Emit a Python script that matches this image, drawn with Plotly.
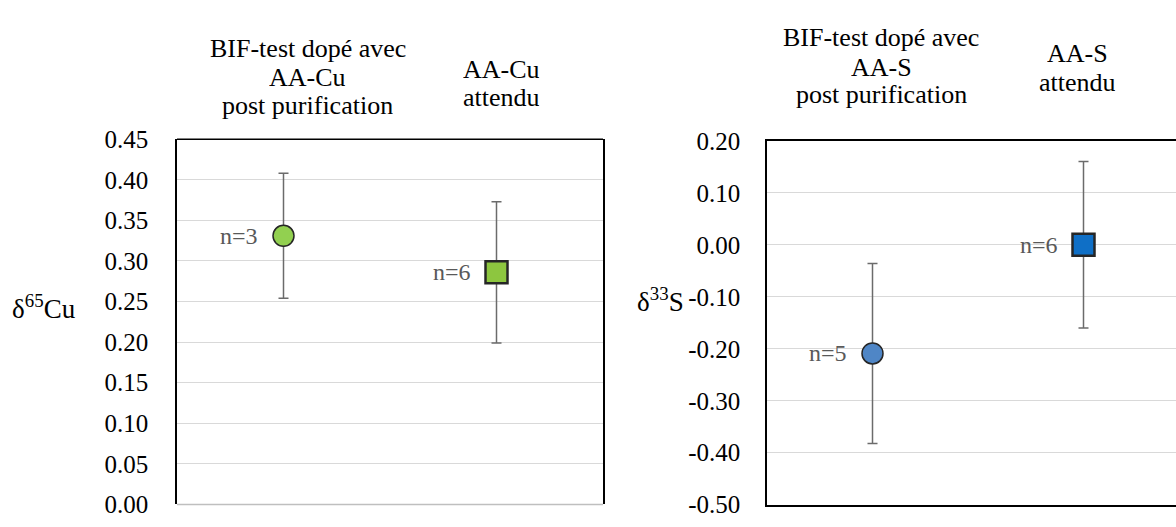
import plotly.graph_objects as go

# ---------------- data ----------------
cu_categories = ["BIF-test dopé avec<br>AA-Cu<br>post purification", "AA-Cu<br>attendu"]
cu_values = [0.331, 0.286]
cu_errors = [0.077, 0.087]
cu_n_labels = ["n=3", "n=6"]
cu_ticks = [0.00, 0.05, 0.10, 0.15, 0.20, 0.25, 0.30, 0.35, 0.40, 0.45]
cu_ticktext = ["0.00", "0.05", "0.10", "0.15", "0.20", "0.25", "0.30", "0.35", "0.40", "0.45"]

s_categories = ["BIF-test dopé avec<br>AA-S<br>post purification", "AA-S<br>attendu"]
s_values = [-0.209, 0.000]
s_errors = [0.173, 0.160]
s_n_labels = ["n=5", "n=6"]
s_ticks = [-0.50, -0.40, -0.30, -0.20, -0.10, 0.00, 0.10, 0.20]
s_ticktext = ["-0.50", "-0.40", "-0.30", "-0.20", "-0.10", "0.00", "0.10", "0.20"]

W, H = 1176, 527
FONT = "'Liberation Serif', 'Times New Roman', 'DejaVu Serif', serif"
GRID = "#D9D9D9"
ERR = "#6B6B6B"
EDGE = "#262626"

def px(x):
    return x / W

def py(y):
    return 1 - y / H

fig = go.Figure()

# left chart points
fig.add_trace(go.Scatter(
    x=[cu_categories[0]], y=[cu_values[0]], mode="markers",
    marker=dict(symbol="circle", size=21, color="#92D050", line=dict(color=EDGE, width=1.5)),
    error_y=dict(type="data", array=[cu_errors[0]], color=ERR, thickness=1.5, width=5),
    xaxis="x", yaxis="y", showlegend=False, hoverinfo="skip"))
fig.add_trace(go.Scatter(
    x=[cu_categories[1]], y=[cu_values[1]], mode="markers",
    marker=dict(symbol="square", size=22, color="#8DC63F", line=dict(color=EDGE, width=2.5)),
    error_y=dict(type="data", array=[cu_errors[1]], color=ERR, thickness=1.5, width=5),
    xaxis="x", yaxis="y", showlegend=False, hoverinfo="skip"))

# right chart points
fig.add_trace(go.Scatter(
    x=[s_categories[0]], y=[s_values[0]], mode="markers",
    marker=dict(symbol="circle", size=21, color="#4F86C6", line=dict(color=EDGE, width=1.5)),
    error_y=dict(type="data", array=[s_errors[0]], color=ERR, thickness=1.5, width=5),
    xaxis="x2", yaxis="y2", showlegend=False, hoverinfo="skip"))
fig.add_trace(go.Scatter(
    x=[s_categories[1]], y=[s_values[1]], mode="markers",
    marker=dict(symbol="square", size=22, color="#0F6FC6", line=dict(color=EDGE, width=2.5)),
    error_y=dict(type="data", array=[s_errors[1]], color=ERR, thickness=1.5, width=5),
    xaxis="x2", yaxis="y2", showlegend=False, hoverinfo="skip"))

annotations = []
# n labels next to points
for cats, vals, labs, xr, yr in [(cu_categories, cu_values, cu_n_labels, "x", "y"),
                                  (s_categories, s_values, s_n_labels, "x2", "y2")]:
    for c, v, t in zip(cats, vals, labs):
        annotations.append(dict(x=c, y=v, xref=xr, yref=yr, text=t, showarrow=False,
                                xanchor="right", yanchor="middle", xshift=-24,
                                font=dict(family=FONT, size=24, color="#595959")))

# category labels above the charts (one annotation per line to keep Excel-like spacing)
label_pos = [(cu_categories[0], 307.5, [37, 68, 98]), (cu_categories[1], 502, [60, 89]),
             (s_categories[0], 881, [26, 57, 86]), (s_categories[1], 1077, [43, 73])]
for text, x, ys in label_pos:
    for line, y in zip(text.split("<br>"), ys):
        annotations.append(dict(x=px(x), y=py(y), xref="paper", yref="paper", text=line,
                                showarrow=False, xanchor="center", yanchor="middle",
                                height=29, valign="middle",
                                font=dict(family=FONT, size=26, color="#000000")))

# y axis titles
annotations.append(dict(x=px(44), y=py(310), xref="paper", yref="paper",
                        text="δ<sup>65</sup>Cu", showarrow=False, xanchor="center", yanchor="middle",
                        font=dict(family=FONT, size=27, color="#000000")))
annotations.append(dict(x=px(660), y=py(302), xref="paper", yref="paper",
                        text="δ<sup>33</sup>S", showarrow=False, xanchor="center", yanchor="middle",
                        font=dict(family=FONT, size=27, color="#000000")))

tickfont = dict(family=FONT, size=25, color="#000000")

fig.update_layout(
    width=W, height=H,
    margin=dict(l=0, r=0, t=0, b=0),
    paper_bgcolor="white", plot_bgcolor="white",
    showlegend=False,
    font=dict(family=FONT),
    xaxis=dict(domain=[px(177), px(603)], type="category", categoryarray=cu_categories,
               range=[-0.5, 1.5], showticklabels=False, showgrid=False, zeroline=False,
               showline=False, fixedrange=True),
    yaxis=dict(domain=[py(518), py(133)], range=[0, 0.45], tickvals=cu_ticks, ticktext=cu_ticktext,
               showgrid=True, gridcolor=GRID, gridwidth=1, zeroline=False,
               showline=True, linecolor="#000000", linewidth=1.5, mirror=True,
               ticks="", ticklabelstandoff=22, ticklabeloverflow="allow", tickfont=tickfont, anchor="x"),
    xaxis2=dict(domain=[px(767), 1.0], type="category", categoryarray=s_categories,
                range=[-0.5, -0.5 + 409 / 211], showticklabels=False, showgrid=False, zeroline=False,
                showline=True, linecolor="#000000", linewidth=1.5, mirror=True, anchor="y2"),
    yaxis2=dict(domain=[py(518.3), py(134.7)], range=[-0.5, 0.2], tickvals=s_ticks, ticktext=s_ticktext,
                showgrid=True, gridcolor=GRID, gridwidth=1, zeroline=False,
                showline=True, linecolor="#000000", linewidth=1.5, mirror=False,
                ticks="", ticklabelstandoff=20, ticklabeloverflow="allow", tickfont=tickfont, anchor="x2"),
    annotations=annotations,
    shapes=[dict(type="line", xref="x domain", yref="y domain", x0=0, x1=1, y0=1, y1=1,
                 line=dict(color="#000000", width=1.5)),
            dict(type="line", xref="x domain", yref="y domain", x0=0, x1=1, y0=0, y1=0,
                 line=dict(color="#BFBFBF", width=1.5))],
)

fig.write_html("out.html", config={"displayModeBar": False},
               post_script="document.body.style.margin='0';document.body.style.overflow='hidden';")
